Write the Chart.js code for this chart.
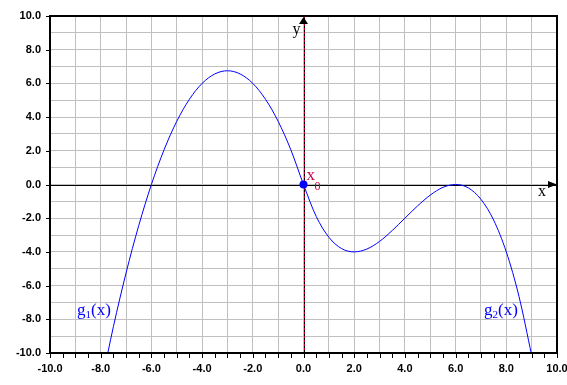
<!DOCTYPE html>
<html>
<head>
<meta charset="utf-8">
<script src="https://cdn.jsdelivr.net/npm/chart.js@4"></script>
<style>
  html, body { margin: 0; padding: 0; background: #fff; }
  #wrap { width: 567px; height: 385px; position: relative; }
</style>
</head>
<body>
<div id="wrap"><canvas id="chart"></canvas></div>
<script>
// points: g1 left of x0, g2 right of it
const curveX = [-7.72, -7.5, -7, -6.5, -6, -5.5, -5, -4.5, -4, -3.5, -3, -2.5, -2, -1.5, -1, -0.5, 0,
  0.5, 1, 1.5, 2, 2.5, 3, 3.5, 4, 4.5, 5, 5.5, 6, 6.5, 7, 7.5, 8, 8.5, 9];
const curveY = [-10, -8.44, -5.25, -2.44, 0, 2.06, 3.75, 5.06, 6, 6.56, 6.75, 6.56, 6, 5.06, 3.75, 2.06, 0,
  -1.89, -3.13, -3.8, -4, -3.83, -3.38, -2.73, -2, -1.27, -0.63, -0.17, 0, -0.2, -0.88, -2.11, -4, -6.64, -10.13];
const markX = [0];
const markY = [0];
const axisMin = -10;
const axisMax = 10;

const curvePoints = curveX.map((x, i) => ({ x: x, y: curveY[i] }));
const markPoints = markX.map((x, i) => ({ x: x, y: markY[i] }));

const tickFont = { family: 'Liberation Sans', size: 11, weight: 'bold' };
const labelCb = v => (v % 2 === 0 ? v.toFixed(1) : '');

const decorations = {
  id: 'decorations',
  beforeDatasetsDraw(chart) {
    const ctx = chart.ctx;
    const xs = chart.scales.x, ys = chart.scales.y;
    const a = chart.chartArea;
    const x0 = Math.round(xs.getPixelForValue(0)) + 0.5;
    const y0 = Math.round(ys.getPixelForValue(0)) + 0.5;
    ctx.save();
    // x axis through origin
    ctx.strokeStyle = '#000';
    ctx.lineWidth = 1;
    ctx.beginPath();
    ctx.moveTo(a.left, y0);
    ctx.lineTo(a.right, y0);
    ctx.stroke();
    // y axis, black with dark red dashes
    ctx.beginPath();
    ctx.moveTo(x0, a.top);
    ctx.lineTo(x0, a.bottom);
    ctx.stroke();
    ctx.strokeStyle = '#b00020';
    ctx.setLineDash([2, 2]);
    ctx.beginPath();
    ctx.moveTo(x0, a.top);
    ctx.lineTo(x0, a.bottom);
    ctx.stroke();
    ctx.restore();
  },
  afterDraw(chart) {
    const ctx = chart.ctx;
    const xs = chart.scales.x, ys = chart.scales.y;
    const a = chart.chartArea;
    const x0 = xs.getPixelForValue(0);
    const y0 = ys.getPixelForValue(0);
    ctx.save();

    // frame
    ctx.strokeStyle = '#000';
    ctx.lineWidth = 2;
    ctx.strokeRect(a.left, a.top, a.right - a.left, a.bottom - a.top);

    // bottom ticks every 0.5
    ctx.lineWidth = 1;
    ctx.beginPath();
    for (let v = axisMin; v <= axisMax; v += 0.5) {
      const px = Math.round(xs.getPixelForValue(v)) + 0.5;
      ctx.moveTo(px, a.bottom);
      ctx.lineTo(px, a.bottom + 5);
    }
    // left ticks at labels
    for (let v = axisMin; v <= axisMax; v += 2) {
      const py = Math.round(ys.getPixelForValue(v)) + 0.5;
      ctx.moveTo(a.left - 4, py);
      ctx.lineTo(a.left, py);
    }
    ctx.stroke();

    // arrows
    ctx.fillStyle = '#000';
    ctx.beginPath();
    ctx.moveTo(x0, a.top + 1);
    ctx.lineTo(x0 - 4.5, a.top + 8);
    ctx.lineTo(x0 + 4.5, a.top + 8);
    ctx.closePath();
    ctx.fill();
    ctx.beginPath();
    ctx.moveTo(a.right, y0);
    ctx.lineTo(a.right - 9, y0 - 3.5);
    ctx.lineTo(a.right - 9, y0 + 3.5);
    ctx.closePath();
    ctx.fill();

    // axis names
    ctx.font = '16px "Liberation Serif"';
    ctx.textBaseline = 'alphabetic';
    ctx.textAlign = 'left';
    ctx.fillText('y', x0 - 11, a.top + 18);
    ctx.fillText('x', a.right - 19, y0 + 11);

    // x0 label
    ctx.fillStyle = '#c0004a';
    ctx.font = '17px "Liberation Serif"';
    ctx.fillText('x', x0 + 3, y0 - 5);
    ctx.font = '12px "Liberation Serif"';
    ctx.fillText('0', x0 + 11, y0 + 5);

    // function labels
    const fnLabel = (txt, sub, px, py) => {
      ctx.fillStyle = '#0000ff';
      ctx.font = '17px "Liberation Serif"';
      ctx.fillText(txt, px, py);
      let w = ctx.measureText(txt).width;
      ctx.font = '11px "Liberation Serif"';
      ctx.fillText(sub, px + w, py + 3);
      w += ctx.measureText(sub).width;
      ctx.font = '17px "Liberation Serif"';
      ctx.fillText('(x)', px + w, py);
    };
    fnLabel('g', '1', 77, 315);
    fnLabel('g', '2', 484, 315);

    ctx.restore();
  }
};

new Chart(document.getElementById('chart'), {
  type: 'scatter',
  data: {
    datasets: [
      {
        data: curvePoints,
        showLine: true,
        borderColor: '#0000ff',
        borderWidth: 1,
        pointRadius: 0,
        cubicInterpolationMode: 'monotone',
      },
      {
        data: markPoints,
        pointRadius: 4,
        pointBackgroundColor: '#0000ff',
        pointBorderColor: '#0000ff',
        borderWidth: 0,
      },
    ],
  },
  options: {
    responsive: true,
    maintainAspectRatio: false,
    animation: false,
    layout: { padding: { top: 16, right: 10, left: 0, bottom: 0 } },
    plugins: { legend: { display: false }, tooltip: { enabled: false } },
    scales: {
      x: {
        type: 'linear',
        min: axisMin,
        max: axisMax,
        border: { display: false },
        grid: { color: '#c0c0c0', drawTicks: false },
        ticks: { stepSize: 1, autoSkip: false, maxRotation: 0, padding: 9, color: '#000', font: tickFont, callback: labelCb },
        afterFit: s => { s.height = 32; s.paddingLeft = 0; s.paddingRight = 0; },
      },
      y: {
        type: 'linear',
        min: axisMin,
        max: axisMax,
        border: { display: false },
        grid: { color: '#c0c0c0', drawTicks: false },
        ticks: { stepSize: 1, autoSkip: false, padding: 9, color: '#000', font: tickFont, callback: labelCb },
        afterFit: s => { s.width = 50; s.paddingTop = 0; s.paddingBottom = 0; },
      },
    },
  },
  plugins: [decorations],
});
</script>
</body>
</html>
